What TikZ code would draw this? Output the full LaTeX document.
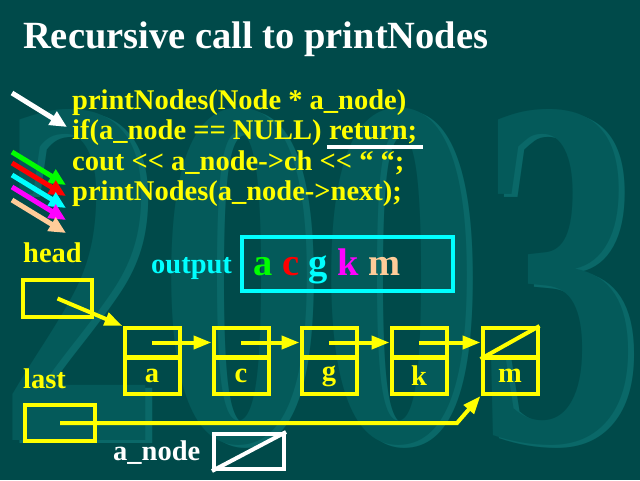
\documentclass[tikz,border=0pt]{standalone}
\usepackage{fontspec}
\setmainfont{Liberation Serif}[Ligatures=TeXOff]
\usetikzlibrary{arrows.meta,positioning}

\definecolor{slidebg}{RGB}{0,74,74}
\definecolor{markface}{RGB}{4,90,90}
\definecolor{markedge}{RGB}{10,104,104}
\definecolor{peach}{RGB}{255,204,153}
\definecolor{brightgreen}{RGB}{0,255,0}
\definecolor{brightred}{RGB}{255,0,0}
\definecolor{brightcyan}{RGB}{0,255,255}
\definecolor{brightmagenta}{RGB}{255,0,255}
\definecolor{brightyellow}{RGB}{255,255,0}

\begin{document}
\begin{tikzpicture}[x=1pt, y=-1pt,
    title/.style={anchor=base west, inner sep=0, font=\fontsize{38.5}{44}\selectfont\bfseries, text=white},
    code/.style={anchor=base west, inner sep=0, font=\fontsize{28.5}{32}\selectfont\bfseries, text=brightyellow},
    box/.style={draw=brightyellow, line width=4pt, inner sep=0, font=\fontsize{28.5}{32}\selectfont\bfseries, text=brightyellow},
    cell/.style={box, minimum width=55pt},
    ptr/.style={draw=brightyellow, line width=4pt, -{Triangle[length=18pt,width=13pt]}},
    marker/.style={line width=5pt, -{Triangle[length=17pt,width=15pt]}},
]
    % background and the 2003 watermark
    \fill[slidebg] (0,0) rectangle (640,480);
    \useasboundingbox (0,0) rectangle (640,480);
    \node[anchor=base, inner sep=0, text=markedge, font=\fontsize{500}{500}\selectfont\bfseries] (markshade) at (326,443) {\scalebox{0.64}[1]{2003}};
    \node[anchor=base, inner sep=0, text=markface, font=\fontsize{500}{500}\selectfont\bfseries] (mark) at (320,440) {\scalebox{0.64}[1]{2003}};

    \node[title] (heading) at (23,48) {Recursive call to printNodes};

    % code
    \node[code] (line1) at (72,109) {printNodes(Node * a\_node)};
    \node[code] (line2) at (72,139.5) {if(a\_node == NULL)};
    \node[code, base right=7pt of line2] (ret) {return;};
    \node[code] (line3) at (72,170) {cout << a\_node->ch << “ “;};
    \node[code] (line4) at (72,200) {printNodes(a\_node->next);};
    \draw[white, line width=4pt] ([xshift=-2pt,yshift=-7pt]ret.base west) -- ([xshift=6pt,yshift=-7pt]ret.base east);

    % markers
    \coordinate (w0) at (12,93);
    \coordinate (w1) at (67,127);
    \draw[marker, white] (w0) -- (w1);
    \foreach \col/\sy [count=\i] in {brightgreen/152,brightred/163,brightcyan/175,brightmagenta/187,peach/200} {
        \coordinate (s\i) at (12,\sy);
        \coordinate (e\i) at (66,\sy+33);
        \draw[marker, \col] (s\i) -- (e\i);
    }

    % output
    \node[code, text=brightcyan] (outlabel) at (151,273) {output};
    \node[draw=brightcyan, line width=4pt, minimum width=211pt, minimum height=54pt, inner sep=0] (outbox) at (347.5,264) {};
    \node[anchor=base west, inner sep=0, font=\fontsize{38.5}{44}\selectfont\bfseries] (outtext) at (253,275)
        {\textcolor{brightgreen}{a} \textcolor{brightred}{c} \textcolor{brightcyan}{g} \textcolor{brightmagenta}{k} \textcolor{peach}{m}};

    % list
    \node[code] (headlabel) at (23,262) {head};
    \node[box, minimum width=69pt, minimum height=37pt] (headbox) at (57.5,298.5) {};
    \node[code] (lastlabel) at (23,388) {last};
    \node[box, minimum width=70pt, minimum height=36pt] (lastbox) at (60,423) {};

    \foreach \ch/\cx [count=\i] in {a/152,c/241,g/329,k/419,m/510} {
        \node[cell, minimum height=29pt] (p\i) at (\cx,342.5) {};
        \node[cell, minimum height=36pt] (d\i) at (\cx,376) {\ch};
    }
    \foreach \i/\j in {1/2,2/3,3/4,4/5}
        \draw[ptr] (p\i.center) -- (p\j.west);
    \draw[brightyellow, line width=4pt] (p5.south west) -- (p5.north east);
    \draw[ptr] (headbox.center) -- (p1.north west);
    \coordinate (lastbend) at (457,423);
    \draw[ptr] (lastbox.center) -- (lastbend) -- (d5.south west);

    % a_node
    \node[code, text=white] (anodelabel) at (113,460) {a\_node};
    \node[box, draw=white, minimum width=70pt, minimum height=35pt] (anodebox) at (249,451.5) {};
    \draw[white, line width=4pt] (anodebox.south west) -- (anodebox.north east);
\end{tikzpicture}
\end{document}
